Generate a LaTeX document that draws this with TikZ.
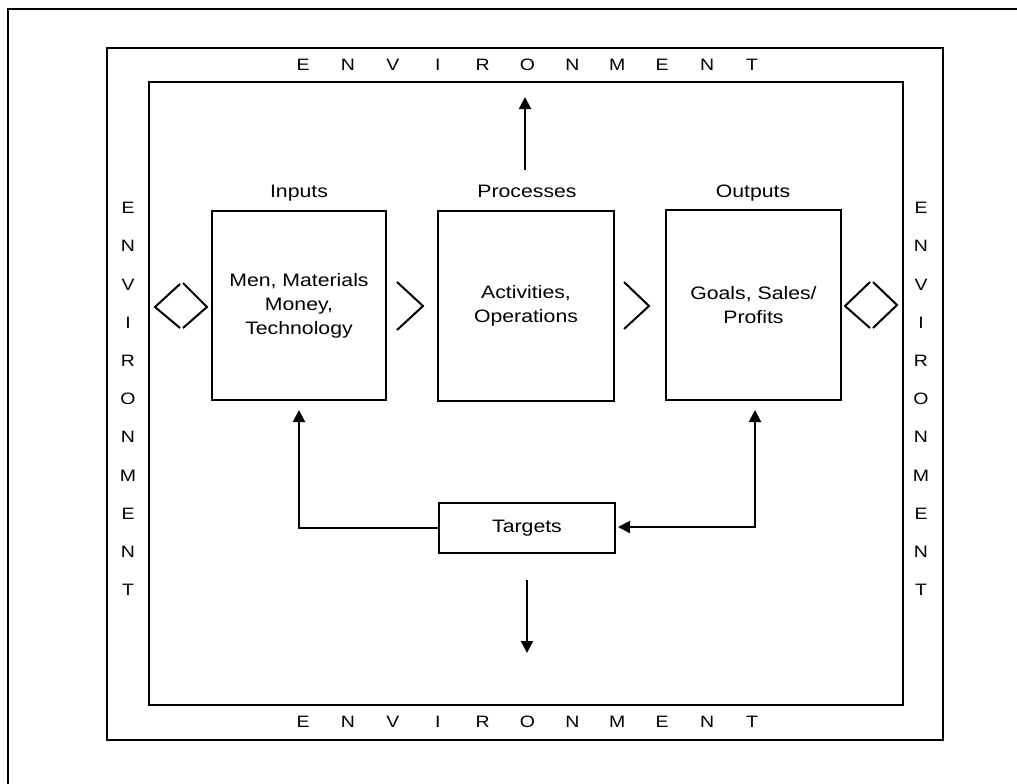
\documentclass[tikz,border=0pt]{standalone}
\usepackage{fontspec}
\setmainfont{Liberation Sans}[FakeStretch=1.18]
\usetikzlibrary{arrows.meta}
\begin{document}
\begin{tikzpicture}[x=1pt,y=-1pt,line width=2pt,
  tip/.style={-{Triangle[length=12pt,width=12pt]}},
  box/.style={draw,line width=2.2pt,inner sep=0pt,align=center,
    font=\fontsize{18}{24}\selectfont},
  lab/.style={inner sep=0pt,anchor=base,font=\fontsize{18}{24}\selectfont},
  env/.style={inner sep=0pt,font=\fontsize{16.5}{16.5}\selectfont},
  chev/.style={line width=2pt,line join=miter}]
\fill[white] (0,0) rectangle (1017,784);
\useasboundingbox (0,0) rectangle (1017,784);
% outer frame (scan edge)
\draw (8,784) -- (8,9) -- (1017,9);
% environment frames
\draw (107,48) rectangle (943,740);
\draw (149,82) rectangle (903,705);
% environment lettering
\foreach \ch [count=\i from 0] in {E,N,V,I,R,O,N,M,E,N,T} {
  \node[env] (top\i) at ({303+44.9*\i},65) {\ch};
  \node[env] (bot\i) at ({303+44.9*\i},722) {\ch};
  \node[env] (lft\i) at (128,{208+38.2*\i}) {\ch};
  \node[env] (rgt\i) at (921,{208+38.2*\i}) {\ch};
}
% main boxes
\node[box,minimum width=174pt,minimum height=189pt] (inputs) at (299,305.5)
  {Men, Materials\\Money,\\Technology};
\node[box,minimum width=176pt,minimum height=190pt] (processes) at (526,306)
  {Activities,\\Operations};
\node[box,minimum width=175pt,minimum height=190pt] (outputs) at (753.5,305)
  {Goals, Sales/\\Profits};
\node[box,minimum width=176pt,minimum height=50pt] (targets) at (527,528) {Targets};
% labels
\node[lab] (inlab) at (299,197) {Inputs};
\node[lab] (prlab) at (527,197) {Processes};
\node[lab] (outlab) at (753,197) {Outputs};
% chevrons / diamonds
\draw[chev] (180,284) -- (155,307) -- (180,328);
\draw[chev] (183,283) -- (207,307) -- (183,328);
\draw[chev] (397,282) -- (423,306) -- (397,330);
\draw[chev] (624,282) -- (649,306) -- (624,329);
\draw[chev] (870,282) -- (845,306) -- (870,328);
\draw[chev] (873,282) -- (897,305) -- (873,328);
% arrows to/from environment
\coordinate (upS) at (525,170);
\coordinate (upE) at (525,97);
\draw[tip] (upS) -- (upE);
\coordinate (dnS) at (527,580);
\coordinate (dnE) at (527,653);
\draw[tip] (dnS) -- (dnE);
% feedback from targets
\coordinate (inT) at (299,410);
\coordinate (outT) at (755,410);
\coordinate (tgE) at (618,527);
\draw[tip] (targets.west) -| (inT);
\draw[{Triangle[length=12pt,width=12pt]}-{Triangle[length=12pt,width=12pt]}] (tgE) -| (outT);
\end{tikzpicture}
\end{document}
